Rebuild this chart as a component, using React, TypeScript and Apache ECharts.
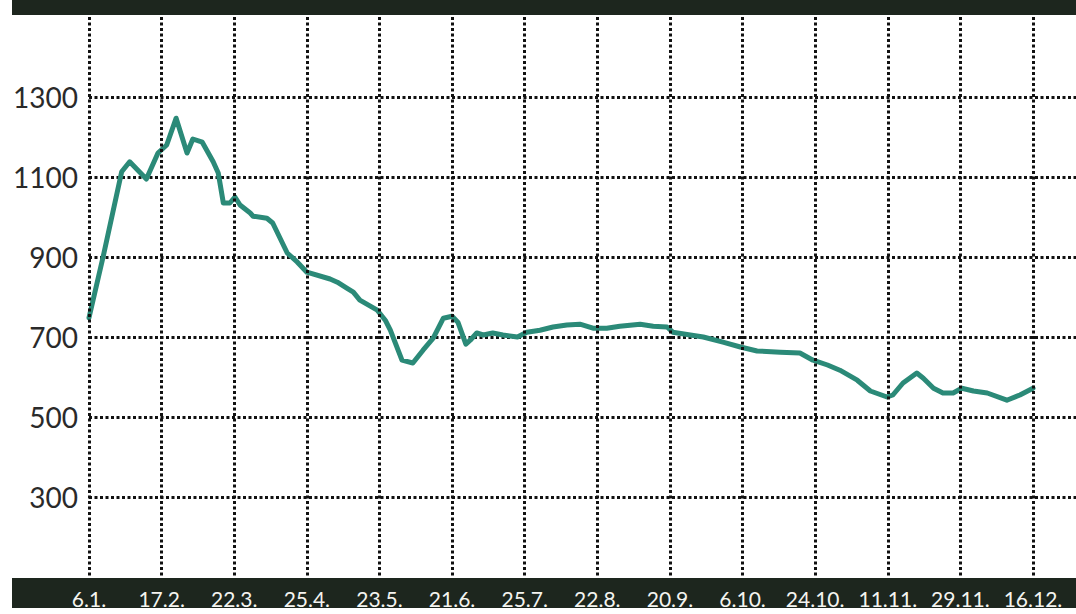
import React, { useEffect, useRef } from "react";
import * as echarts from "echarts";

const xLabels = ["6.1.", "17.2.", "22.3.", "25.4.", "23.5.", "21.6.", "25.7.", "22.8.", "20.9.", "6.10.", "24.10.", "11.11.", "29.11.", "16.12."];
const yTicks = [300, 500, 700, 900, 1100, 1300];

// position along the date grid (0 = 6.1., 13 = 16.12.)
const pos = [
  0, 0.2, 0.45, 0.56, 0.79, 0.95, 1.07, 1.2, 1.35, 1.43, 1.56, 1.71, 1.78, 1.85, 1.94, 2.01, 2.08, 2.22, 2.26,
  2.45, 2.53, 2.73, 2.87, 3.0, 3.32, 3.42, 3.55, 3.64, 3.73, 3.97, 4.08, 4.15, 4.31, 4.46, 4.6, 4.74, 4.88, 5.0,
  5.08, 5.19, 5.25, 5.34, 5.43, 5.56, 5.7, 5.9, 6.03, 6.21, 6.39, 6.58, 6.76, 6.94, 7.13, 7.31, 7.59, 7.77, 7.96,
  8.04, 8.28, 8.46, 8.73, 8.97, 9.2, 9.52, 9.79, 9.97, 10.17, 10.34, 10.58, 10.76, 10.99, 11.07, 11.21, 11.4,
  11.49, 11.63, 11.76, 11.9, 12.02, 12.18, 12.37, 12.64, 12.82, 13.0,
];
const values = [
  748, 905, 1113, 1138, 1095, 1160, 1180, 1247, 1160, 1195, 1187, 1138, 1110, 1035, 1035, 1050, 1030, 1010, 1002,
  997, 985, 910, 887, 862, 845, 837, 822, 812, 792, 767, 742, 717, 642, 635, 667, 697, 747, 752,
  737, 682, 692, 710, 705, 710, 705, 700, 712, 717, 725, 730, 732, 722, 722, 727, 732, 727, 725,
  712, 705, 700, 687, 675, 665, 662, 660, 642, 630, 617, 592, 565, 550, 555, 585, 610,
  597, 572, 560, 560, 572, 565, 560, 542, 555, 572,
];

const BAND = "#1d261e";

export default function App() {
  const ref = useRef<HTMLDivElement>(null);
  useEffect(() => {
    if (!ref.current) return;
    const chart = echarts.init(ref.current, undefined, { renderer: "svg" });
    const dotted = { color: "#111", width: 3, type: [3, 2.5] as any, cap: "butt" };
    const font = "Lato, 'Noto Sans', sans-serif";
    chart.setOption({
      animation: false,
      backgroundColor: "#ffffff",
      graphic: [
        { type: "rect", z: 0, shape: { x: 12, y: 0, width: 1064, height: 15 }, style: { fill: BAND } },
        { type: "rect", z: 0, shape: { x: 12, y: 578, width: 1064, height: 30 }, style: { fill: BAND } },
      ],
      grid: [
        { left: 89, right: 0, top: 17, bottom: 37 },
        { left: 89, right: 43, top: 17, bottom: 37 },
      ],
      xAxis: [
        { type: "value", gridIndex: 0, min: 0, max: 1, show: false },
        {
          type: "value",
          gridIndex: 1,
          min: 0,
          max: xLabels.length - 1,
          interval: 1,
          z: 10,
          axisLine: { show: false },
          axisTick: { show: false },
          splitLine: { show: true, lineStyle: dotted },
          axisLabel: {
            margin: 11,
            color: "#f4f4f0",
            fontSize: 21,
            fontFamily: font,
            lineHeight: 21,
            formatter: (v: number) => xLabels[Math.round(v)] ?? "",
          },
        },
      ],
      yAxis: [
        {
          type: "value",
          gridIndex: 0,
          min: 100,
          max: 1500,
          interval: 200,
          axisLine: { show: false },
          axisTick: { show: false },
          splitLine: { show: true, showMinLine: false, showMaxLine: false, lineStyle: dotted },
          axisLabel: {
            margin: 11,
            color: "#2a2a2a",
            fontSize: 28,
            fontFamily: font,
            formatter: (v: number) => (yTicks.includes(v) ? String(v) : ""),
          },
        },
        { type: "value", gridIndex: 1, min: 100, max: 1500, interval: 200, show: false, splitLine: { show: false } },
      ],
      series: [
        {
          type: "line",
          xAxisIndex: 1,
          yAxisIndex: 1,
          z: 5,
          showSymbol: false,
          symbol: "none",
          lineStyle: { color: "#2b8a78", width: 5, join: "round", cap: "round" },
          data: pos.map((p, i) => [p, values[i]]),
        },
      ],
    });
    return () => chart.dispose();
  }, []);
  return <div ref={ref} style={{ position: "fixed", left: 0, top: 0, width: 1076, height: 614 }} />;
}
